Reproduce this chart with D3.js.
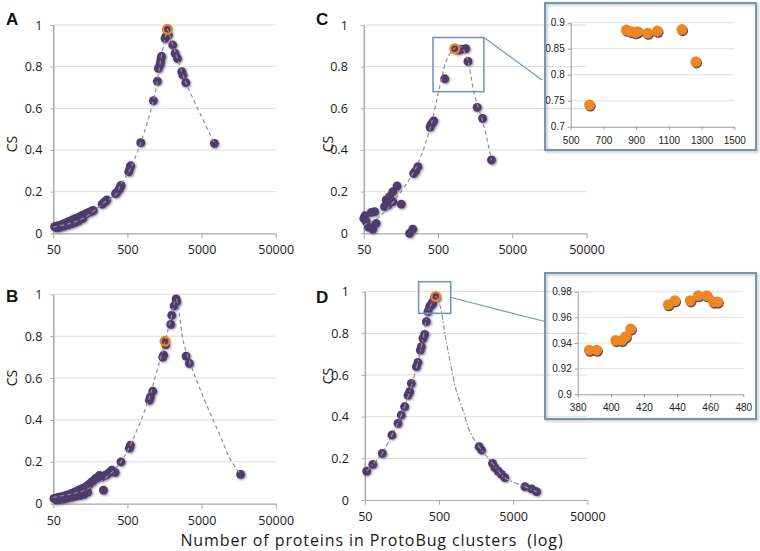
<!DOCTYPE html>
<html><head><meta charset="utf-8">
<script src="https://cdn.jsdelivr.net/npm/d3@7"></script>
<style>
html,body{margin:0;padding:0;background:#fff;}
svg{display:block;font-family:"Open Sans",sans-serif;}
</style></head>
<body>
<svg id="chart" width="760" height="551"></svg>
<script>
// ---------------- DATA ----------------
const xTicks = [50, 500, 5000, 50000];
const yTicks = [0, 0.2, 0.4, 0.6, 0.8, 1];

// Panel A
const aX = [52,55,58,61,64,67,70,74,78,82,87,92,98,104,110,117,124,131,140,150,160,168,173,
            56,62,70,80,90,100,110,125,
            228,237,250,263,345,359,385,397,410,520,531,545,554,756,1119,
            1266,1307,1377,1400,1420,1440,1607,1650,1727,1782,2042,2194,2357,2704,2800,3060,7445];
const aY = [0.032,0.034,0.036,0.038,0.04,0.043,0.046,0.05,0.053,0.057,0.061,0.065,0.07,0.073,0.077,0.082,0.087,0.09,0.095,0.1,0.104,0.108,0.11,
            0.026,0.029,0.034,0.04,0.046,0.053,0.06,0.072,
            0.14,0.146,0.152,0.16,0.19,0.196,0.21,0.22,0.23,0.295,0.305,0.32,0.325,0.435,0.637,
            0.731,0.792,0.81,0.824,0.84,0.85,0.936,0.944,0.979,0.952,0.904,0.864,0.84,0.776,0.76,0.723,0.432];
const aTrendX = [50,84,127,173,237,359,397,531,756,1119,1266,1400,1607,1727,2042,2357,2704,3060,7445];
const aTrendY = [0.03,0.048,0.072,0.104,0.144,0.192,0.229,0.3,0.435,0.637,0.731,0.83,0.936,0.979,0.904,0.84,0.776,0.723,0.432];
const aHighlight = [1727, 0.979];

// Panel B
const bX = [51,54,57,60,64,68,72,77,83,88,94,100,108,116,124,133,142,152,160,170,185,195,210,225,237,249,265,285,307,323,340,409,
            55,60,66,72,80,90,100,115,130,145,
            530,548,988,1020,1096,1497,1540,1608,1640,1920,1980,2127,2265,2300,3085,3420,16800];
const bY = [0.025,0.027,0.029,0.031,0.033,0.035,0.038,0.041,0.045,0.049,0.053,0.058,0.063,0.068,0.073,0.078,0.085,0.092,0.1,0.108,0.12,0.125,0.135,0.128,0.065,0.135,0.14,0.15,0.16,0.155,0.15,0.2,
            0.018,0.02,0.022,0.024,0.028,0.032,0.036,0.04,0.045,0.055,
            0.265,0.28,0.494,0.51,0.537,0.70,0.71,0.776,0.76,0.856,0.90,0.945,0.978,0.965,0.705,0.67,0.14];
const bTrendX = [50,84,127,213,358,489,910,1243,1608,1920,2265,2620,2840,3875,5875,8880,12130,16800];
const bTrendY = [0.03,0.045,0.062,0.102,0.174,0.246,0.47,0.63,0.776,0.88,0.978,0.855,0.773,0.63,0.47,0.326,0.214,0.14];
const bHighlight = [1608, 0.776];

// Panel C
const cX = [50,52,54,58,63,66,70,73,95,100,106,111,123,123,140,160,207,228,235,250,268,390,400,420,437,
            615,840,870,895,910,970,1030,1180,1265,1683,1990,2625];
const cY = [0.072,0.085,0.056,0.03,0.1,0.02,0.104,0.048,0.128,0.16,0.136,0.176,0.152,0.2,0.227,0.14,0.0,0.02,0.288,0.3,0.32,0.51,0.52,0.53,0.54,
            0.742,0.886,0.883,0.881,0.883,0.88,0.884,0.887,0.825,0.605,0.552,0.352];
const cTrendX = [50,81,152,255,386,527,682,841,982,1210,1567,2028,2625];
const cTrendY = [0.04,0.08,0.19,0.32,0.496,0.704,0.848,0.888,0.9,0.848,0.656,0.528,0.352];
const cHighlight = [840, 0.886];
const cZoomX = [428, 2070], cZoomY = [0.68, 0.94];
const cInsetXTicks = [500,700,900,1100,1300,1500];
const cInsetYTicks = [0.7,0.75,0.8,0.85,0.9];

// Panel D
const dX = [53,64,86,116,140,155,172,191,201,212,248,260,280,289,304,320,338,355,374,
            387,391.5,403,406.6,409,412,434.7,438.7,448,452.8,457.9,462,464.5,
            1735,1870,2635,2830,3135,3480,3860,7200,8870,10350];
const dY = [0.139,0.171,0.224,0.312,0.368,0.408,0.448,0.504,0.52,0.56,0.64,0.661,0.72,0.736,0.776,0.795,0.856,0.904,0.928,
            0.9345,0.9345,0.942,0.942,0.945,0.951,0.97,0.973,0.973,0.977,0.977,0.972,0.972,
            0.256,0.24,0.176,0.155,0.139,0.123,0.107,0.064,0.053,0.04];
const dTrendX = [53,64,86,116,155,201,260,304,355,410,455,520,600,700,850,1055,1300,1735,2635,3860,7200,10350];
const dTrendY = [0.139,0.171,0.224,0.312,0.408,0.52,0.661,0.776,0.904,0.95,0.977,0.93,0.8,0.672,0.53,0.43,0.33,0.256,0.176,0.107,0.064,0.04];
const dHighlight = [452.8, 0.977];
const dZoomX = [266, 720], dZoomY = [0.896, 1.048];
const dInsetXTicks = [380,400,420,440,460,480];
const dInsetYTicks = [0.9,0.92,0.94,0.96,0.98];

const xTitle = "Number of proteins in ProtoBug clusters  (log)";
const yTitle = "CS";

// ---------------- STYLE ----------------
const PURPLE = "#4f3b6c", ORANGE = "#ef8621", FRAME = "#7696b8";
const svg = d3.select("#chart");
svg.append("rect").attr("width",760).attr("height",551).attr("fill","#fff");

const defs = svg.append("defs");
const f = defs.append("filter").attr("id","dotsh").attr("x","-50%").attr("y","-50%").attr("width","200%").attr("height","200%");
f.append("feGaussianBlur").attr("in","SourceAlpha").attr("stdDeviation",1.3).attr("result","b");
f.append("feOffset").attr("in","b").attr("dx",1).attr("dy",1.3).attr("result","o");
f.append("feFlood").attr("flood-color","#3b2b52").attr("flood-opacity",0.6);
f.append("feComposite").attr("in2","o").attr("operator","in").attr("result","s");
f.append("feGaussianBlur").attr("in","SourceGraphic").attr("stdDeviation",0.55).attr("result","g");
const m = f.append("feMerge"); m.append("feMergeNode").attr("in","s"); m.append("feMergeNode").attr("in","g");

const bf = defs.append("filter").attr("id","boxsh").attr("x","-10%").attr("y","-10%").attr("width","120%").attr("height","120%");
bf.append("feDropShadow").attr("dx",1.5).attr("dy",1.5).attr("stdDeviation",1.2).attr("flood-color","#000").attr("flood-opacity",0.25);

const panels = [
  {key:"A", xs:aX, ys:aY, tx:aTrendX, ty:aTrendY, hl:aHighlight, x0:53.3, x1:275.7, y0:233.3, y1:25,
   lx:6, ly:25, csx:17, csy:144, gap:11, dash:"4,3"},
  {key:"B", xs:bX, ys:bY, tx:bTrendX, ty:bTrendY, hl:bHighlight, x0:53.3, x1:275.7, y0:503.7, y1:294.3,
   lx:6, ly:302, csx:17, csy:378, gap:11, dash:"4,3"},
  {key:"C", xs:cX, ys:cY, tx:cTrendX, ty:cTrendY, hl:cHighlight, x0:363.8, x1:586.5, y0:233.3, y1:25,
   lx:316, ly:25, csx:333, csy:144, gap:16, dash:"4,3"},
  {key:"D", xs:dX, ys:dY, tx:dTrendX, ty:dTrendY, hl:dHighlight, x0:364.8, x1:587.3, y0:500, y1:291.7,
   lx:316, ly:303, csx:333, csy:376, gap:16, dash:"5,2,1.5,2"}
];

const fmt = d => String(+d.toFixed(3));

panels.forEach(p => {
  const x = d3.scaleLog().domain([50,50000]).range([p.x0,p.x1]);
  const y = d3.scaleLinear().domain([0,1]).range([p.y0,p.y1]);
  p.x = x; p.y = y;
  const g = svg.append("g");
  g.append("g").selectAll("line").data(yTicks.filter(t=>t>0)).join("line")
    .attr("x1",p.x0).attr("x2",p.x1).attr("y1",d=>y(d)).attr("y2",d=>y(d))
    .attr("stroke","#dcdcdc").attr("stroke-width",1);
  const xa = g.append("g").attr("transform",`translate(0,${p.y0})`)
    .call(d3.axisBottom(x).tickValues(xTicks).tickFormat(d3.format("d")).tickSize(5).tickSizeOuter(0));
  xa.select(".domain").attr("stroke","#aaa").attr("stroke-width",1.2);
  xa.selectAll(".tick line").attr("stroke","#aaa");
  xa.selectAll("text").attr("font-size",12.5).attr("fill","#1a1a1a").attr("dy","1.05em")
    .attr("font-family","Open Sans");
  const ya = g.append("g").attr("transform",`translate(${p.x0},0)`)
    .call(d3.axisLeft(y).tickValues(yTicks).tickFormat(fmt).tickSize(3).tickPadding(p.gap-3).tickSizeOuter(0));
  ya.select(".domain").attr("stroke","#aaa").attr("stroke-width",1.5);
  ya.selectAll(".tick line").attr("stroke","#aaa");
  ya.selectAll("text").attr("font-size",12.5).attr("fill","#1a1a1a").attr("font-family","Open Sans");
  const pts = p.xs.map((v,i)=>[v,p.ys[i]]);
  g.append("g").attr("filter","url(#dotsh)").selectAll("circle").data(pts).join("circle")
    .attr("cx",d=>x(d[0])).attr("cy",d=>y(d[1])).attr("r",4.4).attr("fill",PURPLE);
  const line = d3.line().x(d=>x(d[0])).y(d=>y(d[1])).curve(d3.curveCatmullRom.alpha(0.5));
  g.append("path").datum(p.tx.map((v,i)=>[v,p.ty[i]])).attr("d",line)
    .attr("fill","none").attr("stroke","#909090").attr("stroke-width",1.2).attr("stroke-dasharray",p.dash);
  g.append("circle").attr("cx",x(p.hl[0])).attr("cy",y(p.hl[1])).attr("r",4.4)
    .attr("fill","none").attr("stroke",ORANGE).attr("stroke-width",2.3);
  svg.append("text").attr("x",p.lx).attr("y",p.ly).text(p.key)
    .attr("font-family","Liberation Sans, Arial, sans-serif").attr("font-weight","bold").attr("font-size",17).attr("fill","#111");
  svg.append("text").attr("transform",`translate(${p.csx},${p.csy}) rotate(-90)`).attr("text-anchor","middle")
    .text(yTitle).attr("font-size",14).attr("fill","#1a1a1a");
});

// ---------------- INSETS ----------------
function inset(p, zx, zy, box, plot, xdom, ydom, xt, yt, conn) {
  const x = p.x, y = p.y;
  svg.append("rect").attr("x",x(zx[0])).attr("y",y(zy[1])).attr("width",x(zx[1])-x(zx[0])).attr("height",y(zy[0])-y(zy[1]))
    .attr("fill","none").attr("stroke",FRAME).attr("stroke-width",1.6);
  svg.append("line").attr("x1",conn[0]).attr("y1",conn[1]).attr("x2",conn[2]).attr("y2",conn[3])
    .attr("stroke",FRAME).attr("stroke-width",1.2);
  const id = "clip"+p.key;
  defs.append("clipPath").attr("id",id).append("rect").attr("x",box[0]).attr("y",box[1]).attr("width",box[2]-box[0]).attr("height",box[3]-box[1]);
  const g = svg.append("g").attr("clip-path",`url(#${id})`);
  const ix = d3.scaleLinear().domain(xdom).range([plot[0],plot[1]]);
  const iy = d3.scaleLinear().domain(ydom).range([plot[2],plot[3]]);
  g.append("g").selectAll("line").data(yt.slice(1)).join("line")
    .attr("x1",plot[0]).attr("x2",plot[1]).attr("y1",d=>iy(d)).attr("y2",d=>iy(d)).attr("stroke","#e0e0e0");
  const xa = g.append("g").attr("transform",`translate(0,${plot[2]})`)
    .call(d3.axisBottom(ix).tickValues(xt).tickFormat(d3.format("d")).tickSize(3).tickSizeOuter(0));
  xa.select(".domain").attr("stroke","#999");
  xa.selectAll(".tick line").attr("stroke","#999");
  xa.selectAll("text").attr("font-size",10).attr("fill","#222").attr("dy","1.1em");
  const ya = g.append("g").attr("transform",`translate(${plot[0]},0)`)
    .call(d3.axisLeft(iy).tickValues(yt).tickFormat(fmt).tickSize(3).tickPadding(3).tickSizeOuter(0));
  ya.select(".domain").attr("stroke","#999");
  ya.selectAll(".tick line").attr("stroke","#999");
  ya.selectAll("text").attr("font-size",10).attr("fill","#222");
  const pts = p.xs.map((v,i)=>[v,p.ys[i]]).filter(d=>d[0]>=xdom[0]&&d[0]<=xdom[1]&&d[1]>=ydom[0]&&d[1]<=ydom[1]);
  g.append("g").selectAll("circle").data(pts).join("circle")
    .attr("cx",d=>ix(d[0])+0.8).attr("cy",d=>iy(d[1])+1.3).attr("r",5.4).attr("fill","#3d2e4f").attr("opacity",0.85);
  g.append("g").selectAll("circle").data(pts).join("circle")
    .attr("cx",d=>ix(d[0])).attr("cy",d=>iy(d[1])).attr("r",5.4).attr("fill",ORANGE);
  svg.append("rect").attr("x",box[0]).attr("y",box[1]).attr("width",box[2]-box[0]).attr("height",box[3]-box[1])
    .attr("fill","none").attr("stroke",FRAME).attr("stroke-width",2).attr("filter","url(#boxsh)");
}
inset(panels[2], cZoomX, cZoomY, [545,3,756,150], [570.7,734.3,126.7,22.7], [500,1500], [0.7,0.9],
      cInsetXTicks, cInsetYTicks, [484,37.5,542,80]);
inset(panels[3], dZoomX, dZoomY, [545,273,756,419], [577.7,743.3,394.3,291.7], [380,480], [0.9,0.98],
      dInsetXTicks, dInsetYTicks, [451,297.5,545,321.5]);

// x title
svg.append("text").attr("x",372).attr("y",546).attr("text-anchor","middle").text(xTitle)
  .attr("font-size",16).attr("letter-spacing",0.9).style("white-space","pre").attr("xml:space","preserve")
  .attr("fill","#1a1a1a");
</script>
</body></html>
